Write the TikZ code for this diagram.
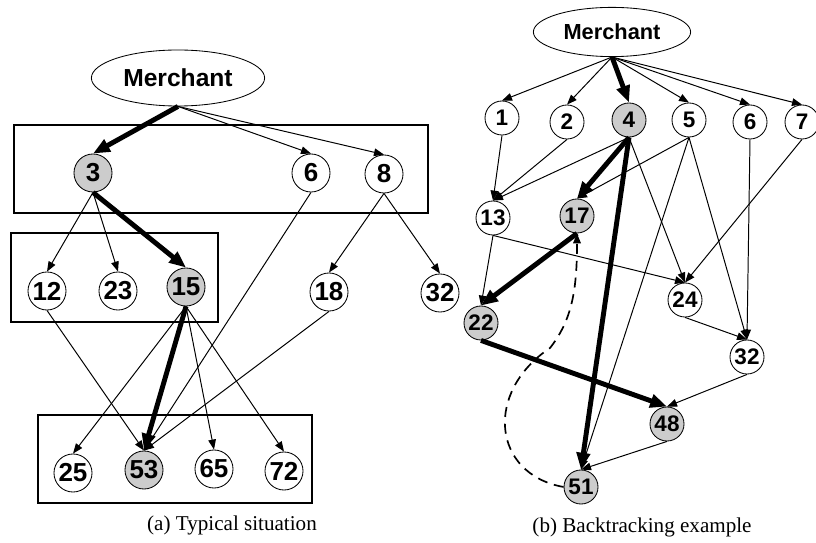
\documentclass[tikz,border=0pt]{standalone}
\usepackage{fontspec}
\setmainfont{Liberation Serif}
\setsansfont{Liberation Sans}
\usetikzlibrary{arrows.meta,shapes.geometric,positioning}

\definecolor{seengray}{HTML}{CCCCCC}

\tikzset{
  vertex/.style={circle, draw, line width=0.6pt, inner sep=0pt},
  bigv/.style={vertex, minimum size=0.95cm,
    font=\sffamily\bfseries\fontsize{18.5}{18.5}\selectfont},
  smallv/.style={vertex, minimum size=0.85cm,
    font=\sffamily\bfseries\fontsize{16}{16}\selectfont},
  seen/.style={fill=seengray},
  merchant/.style={ellipse, draw, line width=0.6pt, inner sep=0pt},
  group/.style={draw, line width=2pt},
  link/.style={->, line width=0.7pt},
  route/.style={-{Triangle[length=0.42cm,width=0.33cm]}, line width=3.5pt},
  back/.style={->, line width=1.2pt, dash pattern=on 0.25cm off 0.17cm},
  caption/.style={font=\fontsize{15}{15}\selectfont}
}

\begin{document}
\begin{tikzpicture}[%
    x=0.025cm,
    y=-0.025cm,
    >={Triangle[length=0.25cm,width=0.19cm]}
  ]
  \useasboundingbox (0,0) rectangle (816,543);

  % (a) typical situation
  \draw[group] (14,125) rectangle (428,213);
  \draw[group] (11,233) rectangle (218,322);
  \draw[group] (38,415) rectangle (312,503);

  \node[merchant, minimum width=4.33cm, minimum height=1.4cm,
    font=\sffamily\bfseries\fontsize{17.5}{17.5}\selectfont] (mA) at (178,78) {Merchant};

  \node[bigv, seen] (a3) at (93,173) {3};
  \node[bigv] (a6) at (311,173) {6};
  \node[bigv] (a8) at (384,174) {8};

  \node[bigv] (a12) at (47,291) {12};
  \node[bigv] (a23) at (118,291) {23};
  \node[bigv, seen] (a15) at (186,287) {15};
  \node[bigv] (a18) at (329,292) {18};
  \node[bigv] (a32) at (440,293) {32};

  \node[bigv] (a25) at (73,473) {25};
  \node[bigv, seen] (a53) at (144,470) {53};
  \node[bigv] (a65) at (214,469) {65};
  \node[bigv] (a72) at (284,471) {72};

  \path[route] (mA.south) edge (a3.north);
  \path[link] (mA.south) edge (a6.north) edge (a8.north);
  \path[link] (a3.south) edge (a12.north) edge (a23.north);
  \path[route] (a3.south) edge (a15.north);
  \path[link] (a8.south) edge (a18.north) edge (a32.north);
  \path[link] (a15.south) edge (a25.north) edge (a65.north) edge (a72.north);
  \path[route] (a15.south) edge (a53.north);
  \path[link] (a12.south) edge (a53.north);
  \path[link] (a6.south) edge (a53.north);
  \path[link] (a18.south) edge (a53.north);

  \node[caption] (capA) at (232,525) {(a) Typical situation};

  % (b) backtracking example
  \node[merchant, minimum width=3.93cm, minimum height=1.23cm,
    font=\sffamily\bfseries\fontsize{15.5}{16}\selectfont] (mB) at (612,32) {Merchant};

  \node[smallv] (b1) at (502,118) {1};
  \node[smallv] (b2) at (567,122) {2};
  \node[smallv, seen] (b4) at (629,120) {4};
  \node[smallv] (b5) at (689,120) {5};
  \node[smallv] (b6) at (750,122) {6};
  \node[smallv] (b7) at (802,122) {7};

  \node[smallv] (b13) at (493,218) {13};
  \node[smallv, seen] (b17) at (577,216) {17};
  \node[smallv] (b24) at (685,300) {24};
  \node[smallv, seen] (b22) at (481,323) {22};
  \node[smallv] (b32) at (747,357) {32};
  \node[smallv, seen] (b48) at (667,424) {48};
  \node[smallv, seen] (b51) at (581,487) {51};

  \path[link] (mB.south) edge (b1.north) edge (b2.north) edge (b5.north)
    edge (b6.north) edge (b7.north);
  \path[route] (mB.south) edge (b4.north);
  \path[link] (b1.south) edge (b13.north);
  \path[link] (b2.south) edge (b13.north);
  \path[link] (b4.south) edge (b13.north) edge (b24.north);
  \path[route] (b4.south) edge (b17.north) edge (b51.north);
  \path[link] (b5.south) edge (b17.north) edge (b51.north) edge (b32.north);
  \path[link] (b6.south) edge (b32.north);
  \path[link] (b7.south) edge (b24.north);
  \path[link] (b13.south) edge (b22.north) edge (b24.north);
  \path[route] (b17.south) edge (b22.north);
  \path[link] (b24.south) edge (b32.north);
  \path[route] (b22.south) edge (b48.north);
  \path[link] (b32.south) edge (b48.north);
  \path[link] (b48.south) edge (b51.north);
  \draw[back] (b51.west) .. controls (492,474) and (484,392) .. (550,348)
    .. controls (572,320) and (577,290) .. (b17.south);

  \node[caption] (capB) at (642,527) {(b) Backtracking example};
\end{tikzpicture}
\end{document}
